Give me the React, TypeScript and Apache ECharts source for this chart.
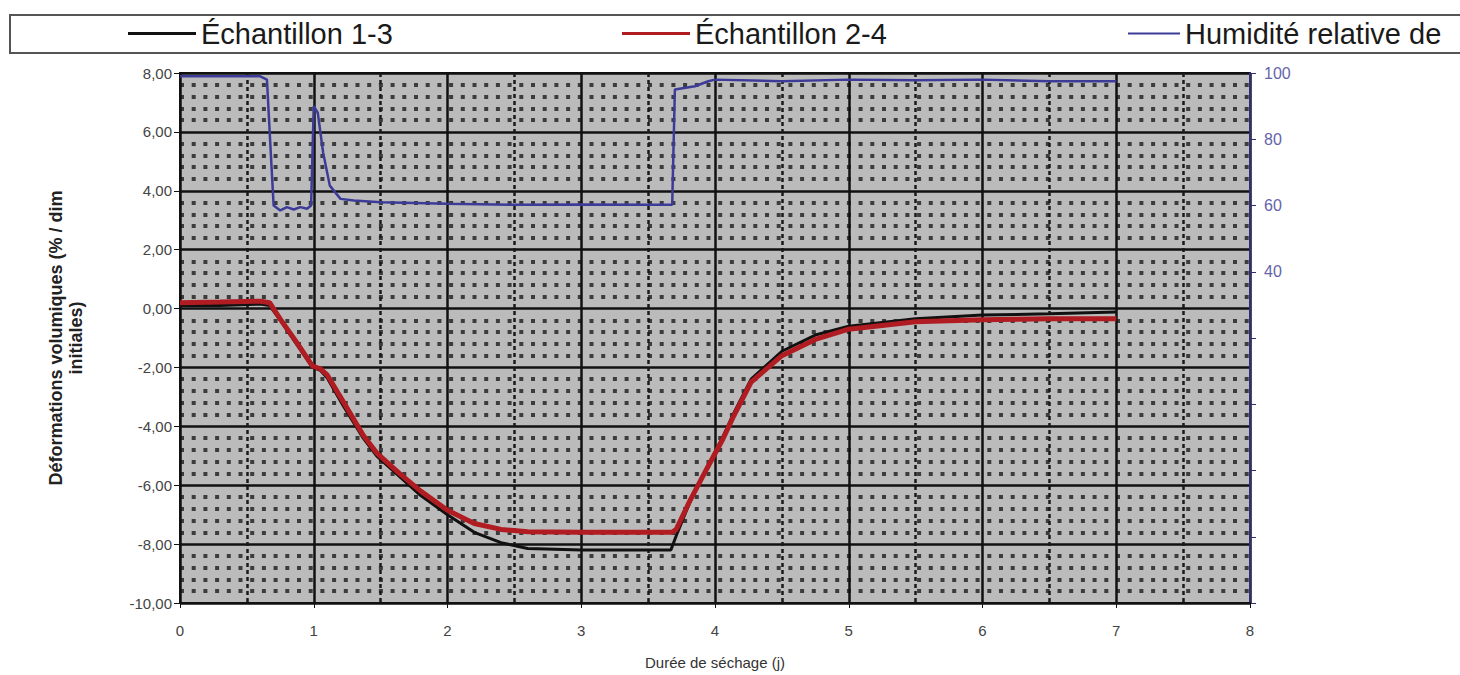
import React, { useEffect, useRef } from "react";
import * as echarts from "echarts";

// ---- Data ----
const xTickLabels = [0, 1, 2, 3, 4, 5, 6, 7, 8];

const sample13Days = [0, 0.3, 0.6, 0.67, 0.75, 0.87, 0.99, 1.05, 1.1, 1.22, 1.37, 1.47, 1.64, 1.8, 2.0, 2.2, 2.4, 2.6, 3.0, 3.4, 3.67, 3.72, 3.81, 3.94, 4.06, 4.13, 4.27, 4.5, 4.75, 5.0, 5.5, 6.0, 6.5, 7.0];
const sample13Values = [0.1, 0.1, 0.15, 0.1, -0.4, -1.2, -2.0, -2.1, -2.35, -3.3, -4.4, -5.0, -5.7, -6.35, -7.0, -7.6, -7.95, -8.15, -8.2, -8.2, -8.2, -7.6, -6.6, -5.4, -4.35, -3.65, -2.4, -1.45, -0.9, -0.6, -0.35, -0.22, -0.18, -0.12];

const sample24Days = [0, 0.3, 0.6, 0.67, 0.75, 0.87, 0.99, 1.05, 1.1, 1.22, 1.37, 1.47, 1.64, 1.8, 2.0, 2.2, 2.4, 2.6, 3.0, 3.4, 3.68, 3.71, 3.81, 3.94, 4.06, 4.13, 4.27, 4.5, 4.75, 5.0, 5.5, 6.0, 6.5, 7.0];
const sample24Values = [0.2, 0.22, 0.25, 0.2, -0.36, -1.13, -1.95, -2.05, -2.25, -3.16, -4.3, -4.9, -5.6, -6.2, -6.85, -7.3, -7.5, -7.58, -7.6, -7.6, -7.6, -7.5, -6.55, -5.43, -4.42, -3.74, -2.5, -1.6, -1.05, -0.7, -0.45, -0.38, -0.35, -0.35];

const humidityDays = [0, 0.3, 0.6, 0.65, 0.68, 0.7, 0.75, 0.8, 0.85, 0.9, 0.95, 0.98, 1.0, 1.03, 1.07, 1.12, 1.2, 1.3, 1.5, 2.0, 2.5, 3.0, 3.5, 3.68, 3.7, 3.85, 3.95, 4.0, 4.5, 5.0, 5.5, 6.0, 6.5, 7.0];
const humidityValues = [99, 99, 99, 98, 75, 60, 58.5, 59.5, 58.8, 59.5, 59, 60, 90, 88, 76, 66, 62, 61.5, 61, 60.5, 60.2, 60.3, 60.2, 60.2, 95, 96, 97.5, 98, 97.5, 98, 97.8, 98, 97.5, 97.5];

const seriesNames = ["Échantillon 1-3", "Échantillon 2-4", "Humidité relative de l'air"];
const xAxisName = "Durée de séchage (j)";
const yAxisName = "Déformations volumiques (% / dim\ninitiales)";

const zip = (xs: number[], ys: number[]) => xs.map((x, i) => [x, ys[i]]);

const FONT = "'Liberation Sans', Arial, sans-serif";

export default function App() {
  const ref = useRef<HTMLDivElement>(null);
  useEffect(() => {
    document.body.style.margin = "0";
    document.body.style.overflow = "hidden";
    if (!ref.current) return;
    const chart = echarts.init(ref.current, null, { renderer: "svg" });
    const legendText = { fontSize: 29, color: "#1a1a1a", fontFamily: FONT };
    const option: any = {
      animation: false,
      backgroundColor: "#ffffff",
      textStyle: { fontFamily: FONT },
      graphic: [
        {
          type: "polyline",
          shape: { points: [[1460, 15], [10, 15], [10, 53], [1460, 53]] },
          style: { stroke: "#555", lineWidth: 2, fill: null },
          z: 10,
        },
      ],
      legend: [
        {
          data: [seriesNames[0]], left: 128, top: 19, padding: 0,
          icon: "rect", itemWidth: 68, itemHeight: 3, textStyle: legendText,
        },
        {
          data: [seriesNames[1]], left: 622, top: 19, padding: 0,
          icon: "rect", itemWidth: 68, itemHeight: 3, textStyle: legendText,
        },
        {
          data: [seriesNames[2]], left: 1128, top: 19, padding: 0,
          icon: "rect", itemWidth: 52, itemHeight: 2,
          textStyle: { ...legendText, width: 272, overflow: "truncate", ellipsis: "" },
        },
      ],
      grid: {
        left: 180, right: 210, top: 73, bottom: 70,
        show: true, backgroundColor: "#bcbbbb", borderColor: "#111", borderWidth: 2,
      },
      xAxis: {
        type: "value", min: xTickLabels[0], max: xTickLabels[xTickLabels.length - 1], interval: 1,
        name: xAxisName, nameLocation: "middle", nameGap: 52,
        nameTextStyle: { fontSize: 15, color: "#333" },
        axisLine: { show: true, onZero: false, lineStyle: { color: "#111", width: 2 } },
        axisTick: { show: true, length: 5, lineStyle: { color: "#111" } },
        axisLabel: { fontSize: 15, color: "#444", margin: 20 },
        splitLine: { show: true, lineStyle: { color: "#111", width: 2.5 } },
        minorTick: { show: false, splitNumber: 2 },
        minorSplitLine: { show: true, lineStyle: { color: "#1a1a1a", width: 2.5, type: [4, 3] } },
      },
      yAxis: [
        {
          type: "value", min: -10, max: 8, interval: 2, position: "left",
          name: yAxisName, nameLocation: "middle", nameGap: 94, nameRotate: 90,
          nameTextStyle: { fontSize: 18, fontWeight: "bold", color: "#222", lineHeight: 20 },
          axisLine: { show: true, lineStyle: { color: "#111", width: 2 } },
          axisTick: { show: true, length: 6, lineStyle: { color: "#111" } },
          axisLabel: {
            formatter: (v: number) => v.toFixed(2).replace(".", ","),
            fontSize: 15, color: "#444", margin: 8,
          },
          splitLine: { show: true, lineStyle: { color: "#111", width: 2.5 } },
          minorTick: { show: false, splitNumber: 5 },
          minorSplitLine: { show: true, lineStyle: { color: "#3c3c3c", width: 4, type: [4, 7.7] } },
        },
        {
          type: "value", min: -60, max: 100, interval: 20, position: "right",
          axisLine: { show: true, lineStyle: { color: "#2e2e7a", width: 2 } },
          axisTick: { show: true, length: 6, lineStyle: { color: "#2e2e7a" } },
          axisLabel: {
            formatter: (v: number) => (v >= 40 ? String(v) : ""),
            fontSize: 16, color: "#6464a8", margin: 14,
          },
          splitLine: { show: false },
        },
      ],
      series: [
        {
          name: seriesNames[2], type: "line", yAxisIndex: 1, showSymbol: false,
          data: zip(humidityDays, humidityValues),
          lineStyle: { color: "#3c3c98", width: 2.5 }, itemStyle: { color: "#3c3c98" },
        },
        {
          name: seriesNames[0], type: "line", yAxisIndex: 0, showSymbol: false,
          data: zip(sample13Days, sample13Values),
          lineStyle: { color: "#111111", width: 3 }, itemStyle: { color: "#111111" },
        },
        {
          name: seriesNames[1], type: "line", yAxisIndex: 0, showSymbol: false,
          data: zip(sample24Days, sample24Values),
          lineStyle: { color: "#b01c22", width: 5 }, itemStyle: { color: "#b01c22" },
        },
      ],
    };
    chart.setOption(option);
    return () => chart.dispose();
  }, []);
  return (
    <div
      ref={ref}
      style={{ position: "absolute", left: 0, top: 0, width: 1460, height: 675 }}
    />
  );
}
